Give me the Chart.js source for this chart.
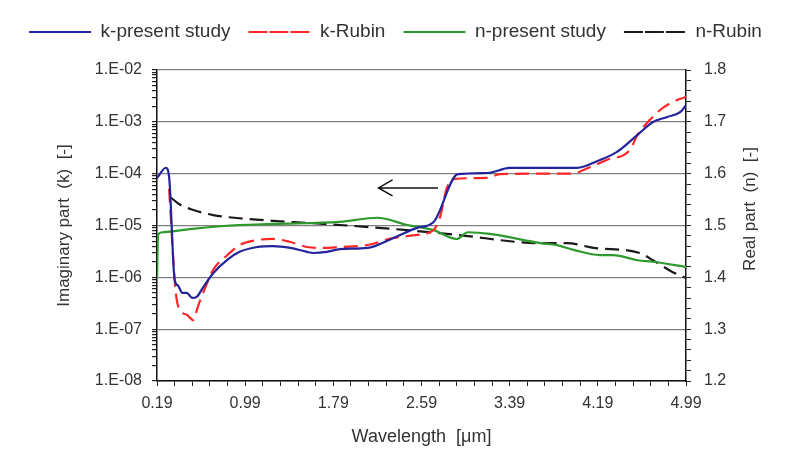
<!DOCTYPE html>
<html>
<head>
<meta charset="utf-8">
<script src="https://cdn.jsdelivr.net/npm/chart.js@4.4.1/dist/chart.umd.min.js"></script>
<style>
  body { margin: 0; background: #fff; }
  #wrap { width: 791px; height: 464px; }
</style>
</head>
<body>
<div id="wrap"><canvas id="nkChart" width="791" height="464"></canvas></div>
<script>
// wavelength [um] and optical constants
const kPresentX = [0.19, 0.27, 0.30, 0.35, 0.38, 0.42, 0.46, 0.51, 0.55, 0.61, 0.70, 0.83, 0.94, 1.10, 1.24, 1.40, 1.55, 1.61, 1.73, 1.85, 2.10, 2.33, 2.55, 2.70, 2.92, 3.19, 3.39, 4.00, 4.21, 4.36, 4.55, 4.69, 4.82, 4.94, 4.99];
const kPresentY = [8.2e-5, 1.3e-4, 8.6e-5, 9e-7, 7e-7, 5e-7, 5e-7, 4e-7, 4.2e-7, 6.5e-7, 1.2e-6, 2.2e-6, 3.1e-6, 3.85e-6, 4e-6, 3.7e-6, 3.1e-6, 2.95e-6, 3.1e-6, 3.5e-6, 3.7e-6, 5.7e-6, 9e-6, 1.17e-5, 9.8e-5, 1.03e-4, 1.29e-4, 1.29e-4, 1.84e-4, 2.6e-4, 5.6e-4, 9.9e-4, 1.24e-3, 1.55e-3, 2.1e-3];

const kRubinX = [0.30, 0.36, 0.40, 0.46, 0.52, 0.56, 0.63, 0.70, 0.83, 0.94, 1.10, 1.24, 1.40, 1.55, 1.70, 1.85, 2.10, 2.33, 2.55, 2.70, 2.76, 2.82, 2.89, 3.19, 3.30, 3.67, 3.97, 4.06, 4.27, 4.48, 4.55, 4.66, 4.78, 4.91, 4.99];
const kRubinY = [5.1e-5, 5.2e-7, 2.3e-7, 1.9e-7, 1.5e-7, 2.7e-7, 6.5e-7, 1.4e-6, 2.7e-6, 4.2e-6, 5.25e-6, 5.5e-6, 4.8e-6, 3.85e-6, 3.7e-6, 3.85e-6, 4.2e-6, 5.7e-6, 6.6e-6, 8.2e-6, 1.5e-5, 5.3e-5, 7.9e-5, 8.3e-5, 9.8e-5, 1e-4, 1e-4, 1.18e-4, 1.84e-4, 2.86e-4, 5.6e-4, 1.08e-3, 1.85e-3, 2.64e-3, 3.0e-3];

const nPresentX = [0.19, 0.20, 0.24, 0.49, 0.79, 1.24, 1.85, 2.19, 2.46, 2.70, 2.91, 3.01, 3.21, 3.67, 3.82, 3.97, 4.21, 4.33, 4.55, 4.69, 4.99];
const nPresentY = [1.400, 1.482, 1.487, 1.493, 1.499, 1.503, 1.507, 1.515, 1.501, 1.491, 1.474, 1.487, 1.484, 1.466, 1.462, 1.453, 1.443, 1.443, 1.433, 1.430, 1.420];

const nRubinX = [0.31, 0.40, 0.52, 0.70, 0.94, 1.24, 1.55, 1.85, 2.46, 2.91, 3.67, 3.91, 4.15, 4.57, 4.69, 4.87, 4.99];
const nRubinY = [1.555, 1.540, 1.530, 1.520, 1.514, 1.509, 1.505, 1.501, 1.491, 1.482, 1.466, 1.466, 1.457, 1.447, 1.433, 1.410, 1.399];

const seriesNames = ['k-present study', 'k-Rubin', 'n-present study', 'n-Rubin'];

const xTickLabels = ['0.19', '0.99', '1.79', '2.59', '3.39', '4.19', '4.99'];
const kTickLabels = ['1.E-08', '1.E-07', '1.E-06', '1.E-05', '1.E-04', '1.E-03', '1.E-02'];
const nTickLabels = ['1.2', '1.3', '1.4', '1.5', '1.6', '1.7', '1.8'];

// arrow pointing at the k axis: [wavelength, k]
const arrowTail = [2.74, 5.3e-5];
const arrowHead = [2.20, 5.3e-5];

const toPoints = (xs, ys) => xs.map((x, i) => ({ x: x, y: ys[i] }));
const isPow10 = v => Math.abs(Math.log10(v) - Math.round(Math.log10(v))) < 1e-6;

Chart.defaults.font.family = "'Liberation Sans', Arial, sans-serif";
Chart.defaults.color = '#333';

const legendFont = 19;
const legendPad = 18;

const line = (label, pts, color, dash, axis) => ({
  label: label,
  data: pts,
  yAxisID: axis,
  borderColor: color,
  backgroundColor: color,
  borderWidth: 2.2,
  borderDash: dash,
  pointRadius: 0,
  cubicInterpolationMode: 'monotone',
  fill: false
});

const extras = {
  id: 'extras',
  beforeInit(chart) {
    const fit = chart.legend.fit;
    chart.legend.fit = function () {
      fit.bind(chart.legend)();
      this.height = 70;
    };
  },
  afterLayout(chart) {
    chart.legend.top = 32 - legendPad - legendFont / 2;
  },
  afterDraw(chart) {
    const ctx = chart.ctx;
    const xs = chart.scales.x, ys = chart.scales.yk;
    // arrow
    const x0 = xs.getPixelForValue(arrowTail[0]);
    const x1 = xs.getPixelForValue(arrowHead[0]);
    const y = ys.getPixelForValue(arrowHead[1]);
    ctx.save();
    ctx.strokeStyle = '#111';
    ctx.lineWidth = 1.5;
    ctx.beginPath();
    ctx.moveTo(x0, y);
    ctx.lineTo(x1, y);
    ctx.moveTo(x1 + 14, y - 8);
    ctx.lineTo(x1, y);
    ctx.lineTo(x1 + 14, y + 8);
    ctx.stroke();
    // right axis title, reading bottom to top
    ctx.fillStyle = '#333';
    ctx.font = "17px 'Liberation Sans', Arial, sans-serif";
    ctx.textAlign = 'center';
    ctx.textBaseline = 'middle';
    ctx.translate(750, 209);
    ctx.rotate(-Math.PI / 2);
    ctx.fillText('Real part  (n)  [-]', 0, 0);
    ctx.restore();
  }
};

new Chart(document.getElementById('nkChart'), {
  type: 'line',
  data: {
    datasets: [
      line(seriesNames[0], toPoints(kPresentX, kPresentY), '#23239b', [], 'yk'),
      line(seriesNames[1], toPoints(kRubinX, kRubinY), '#ff2626', [14, 7], 'yk'),
      line(seriesNames[2], toPoints(nPresentX, nPresentY), '#2e9a2e', [], 'yn'),
      line(seriesNames[3], toPoints(nRubinX, nRubinY), '#1a1a1a', [14, 7], 'yn')
    ]
  },
  options: {
    responsive: false,
    animation: false,
    layout: { padding: 0 },
    plugins: {
      legend: {
        position: 'top',
        labels: {
          boxWidth: 62,
          boxHeight: 0,
          padding: legendPad,
          color: '#333',
          font: { size: legendFont }
        }
      },
      tooltip: { enabled: false }
    },
    scales: {
      x: {
        type: 'linear',
        min: 0.19,
        max: 4.99,
        afterBuildTicks(scale) {
          const t = [];
          for (let i = 0; i <= 30; i++) t.push({ value: 0.19 + i * 0.16 });
          scale.ticks = t;
        },
        afterFit(scale) { scale.height = 83; },
        ticks: {
          autoSkip: false,
          maxRotation: 0,
          padding: 8,
          color: '#333',
          font: { size: 16 },
          callback: (v, i) => (i % 5 === 0 ? xTickLabels[i / 5] : '')
        },
        grid: { drawOnChartArea: false, tickLength: 5, tickColor: '#222' },
        border: { color: '#111', width: 1.5 },
        title: {
          display: true,
          text: 'Wavelength  [\u03bcm]',
          color: '#333',
          font: { size: 18 },
          padding: { top: 0, bottom: 16 }
        }
      },
      yk: {
        type: 'logarithmic',
        position: 'left',
        min: 1e-8,
        max: 1e-2,
        afterBuildTicks(scale) {
          const t = [];
          for (let e = -8; e <= -2; e++) {
            for (let m = 1; m <= 9; m++) {
              if (e === -2 && m > 1) break;
              t.push({ value: m * Math.pow(10, e) });
            }
          }
          scale.ticks = t;
        },
        afterFit(scale) { scale.width = 157; },
        ticks: {
          autoSkip: false,
          padding: 10,
          color: '#333',
          font: { size: 16 },
          callback: v => (isPow10(v) ? kTickLabels[Math.round(Math.log10(v)) + 8] : '')
        },
        grid: {
          color: c => (c.tick && isPow10(c.tick.value) ? '#808080' : 'rgba(0,0,0,0)'),
          lineWidth: 1.2,
          tickLength: 5,
          tickColor: '#222'
        },
        border: { color: '#111', width: 1.5 },
        title: {
          display: true,
          text: 'Imaginary part  (k)  [-]',
          color: '#333',
          font: { size: 17 },
          padding: { top: 54, bottom: 0 }
        }
      },
      yn: {
        type: 'linear',
        position: 'right',
        min: 1.2,
        max: 1.8,
        afterBuildTicks(scale) {
          const t = [];
          for (let i = 0; i <= 30; i++) t.push({ value: 1.2 + i * 0.02 });
          scale.ticks = t;
        },
        afterFit(scale) { scale.width = 105; },
        ticks: {
          autoSkip: false,
          padding: 13,
          color: '#333',
          font: { size: 16 },
          callback: (v, i) => (i % 5 === 0 ? nTickLabels[i / 5] : '')
        },
        grid: { drawOnChartArea: false, tickLength: 5, tickColor: '#222' },
        border: { color: '#111', width: 1.5 }
      }
    }
  },
  plugins: [extras]
});
</script>
</body>
</html>
